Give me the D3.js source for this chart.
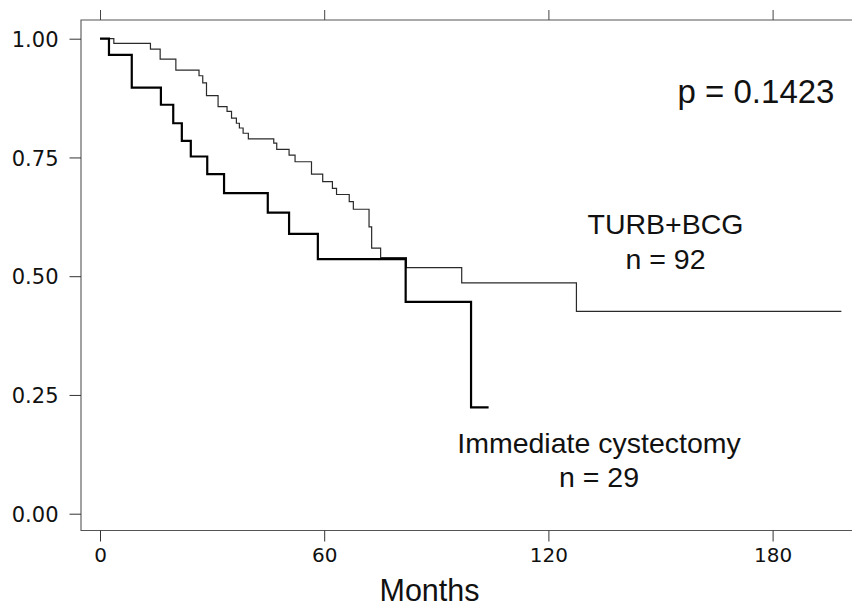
<!DOCTYPE html>
<html>
<head>
<meta charset="utf-8">
<script src="https://cdn.jsdelivr.net/npm/d3@7"></script>
<style>
  body { margin: 0; background: #fff; }
  svg { display: block; }
  .tick-label { font-family: "DejaVu Sans", sans-serif; fill: #111; }
  .note { font-family: "Liberation Sans", Arial, sans-serif; fill: #111; }
</style>
</head>
<body>
<svg id="chart" width="852" height="606"></svg>
<script>
// Kaplan-Meier steps: time (months) and survival after the step
const bcgTimes = [0, 3.7, 13.5, 16.1, 20.3, 26.5, 27.5, 28.5, 31.6, 34.0, 35.2, 36.5, 37.3, 38.3, 39.7,
                  46.5, 47.3, 50.6, 52.2, 56.6, 59.6, 62.2, 63.3, 66.7, 67.8, 72.0, 72.7, 75.1, 82.0,
                  96.8, 127.5, 198.4];
const bcgSurv  = [1.0, 0.990, 0.978, 0.957, 0.934, 0.922, 0.907, 0.880, 0.857, 0.847, 0.833, 0.822, 0.812, 0.801, 0.789,
                  0.780, 0.767, 0.755, 0.741, 0.715, 0.699, 0.685, 0.672, 0.657, 0.641, 0.604, 0.559, 0.539, 0.518,
                  0.486, 0.426, 0.426];

const cystTimes = [0, 2.4, 8.5, 16.3, 19.6, 21.9, 24.3, 28.7, 33.2, 44.9, 50.6, 58.3, 81.8, 99.3, 104];
const cystSurv  = [1.0, 0.966, 0.897, 0.861, 0.822, 0.785, 0.752, 0.715, 0.675, 0.634, 0.589, 0.536, 0.446, 0.224, 0.224];

const xTicks = [0, 60, 120, 180];
const yTicks = [0, 0.25, 0.5, 0.75, 1];

const pValue = "p = 0.1423";
const bcgLabel = ["TURB+BCG", "n = 92"];
const cystLabel = ["Immediate cystectomy", "n = 29"];
const xTitle = "Months";

const svg = d3.select('#chart');

const frame = { left: 81, top: 20, right: 860, bottom: 530.5 };

const xScale = d3.scaleLinear().domain([0, 180]).range([100, 772.6]);
const yScale = d3.scaleLinear().domain([0, 1]).range([513.7, 38.7]);

// frame (right side runs off the picture)
svg.append('path')
  .attr('d', `M${frame.right},${frame.top}H${frame.left}V${frame.bottom}H${frame.right}`)
  .attr('fill', 'none')
  .attr('stroke', '#555')
  .attr('stroke-width', 1.1);

// y axis
const yAxis = d3.axisLeft(yScale)
  .tickValues(yTicks)
  .tickFormat(d3.format('.2f'))
  .tickSize(11.5)
  .tickPadding(11);

const yAxisG = svg.append('g')
  .attr('transform', `translate(${frame.left},0)`)
  .call(yAxis);
yAxisG.select('.domain').remove();
yAxisG.selectAll('line').attr('stroke', '#333');
yAxisG.selectAll('text')
  .attr('class', 'tick-label')
  .attr('font-size', 21)
  .attr('dy', '0.36em');

// bottom x axis
const xAxis = d3.axisBottom(xScale)
  .tickValues(xTicks)
  .tickFormat(d3.format('d'))
  .tickSize(11)
  .tickPadding(5);

const xAxisG = svg.append('g')
  .attr('transform', `translate(0,${frame.bottom})`)
  .call(xAxis);
xAxisG.select('.domain').remove();
xAxisG.selectAll('line').attr('stroke', '#333');
xAxisG.selectAll('text')
  .attr('class', 'tick-label')
  .attr('font-size', 20)
  .attr('dy', '0.76em');

// top ticks, no labels
const xAxisTop = d3.axisTop(xScale)
  .tickValues(xTicks)
  .tickFormat('')
  .tickSize(10);

const xTopG = svg.append('g')
  .attr('transform', `translate(0,${frame.top})`)
  .call(xAxisTop);
xTopG.select('.domain').remove();
xTopG.selectAll('line').attr('stroke', '#444');

// survival curves
const stepLine = d3.line()
  .x(d => xScale(d[0]))
  .y(d => yScale(d[1]))
  .curve(d3.curveStepAfter);

const curves = [
  { key: 'bcg', pts: d3.zip(bcgTimes, bcgSurv), width: 1.2, color: '#2a2a2a' },
  { key: 'cyst', pts: d3.zip(cystTimes, cystSurv), width: 2.2, color: '#000' }
];

svg.selectAll('.line-path')
  .data(curves)
  .enter().append('path')
  .attr('class', 'line-path')
  .attr('d', d => stepLine(d.pts))
  .attr('fill', 'none')
  .attr('stroke', d => d.color)
  .attr('stroke-width', d => d.width);

// notes
svg.append('text')
  .attr('class', 'note')
  .attr('x', 756)
  .attr('y', 103.3)
  .attr('text-anchor', 'middle')
  .attr('font-size', 33)
  .text(pValue);

svg.append('text')
  .attr('class', 'note')
  .attr('text-anchor', 'middle')
  .attr('font-size', 28.5)
  .selectAll('tspan')
  .data(bcgLabel)
  .enter().append('tspan')
  .attr('x', 665.5)
  .attr('y', (d, i) => 234.3 + i * 35)
  .text(d => d);

svg.append('text')
  .attr('class', 'note')
  .attr('text-anchor', 'middle')
  .attr('font-size', 28.5)
  .selectAll('tspan')
  .data(cystLabel)
  .enter().append('tspan')
  .attr('x', 599)
  .attr('y', (d, i) => 453 + i * 33.7)
  .text(d => d);

svg.append('text')
  .attr('class', 'note')
  .attr('x', 429.5)
  .attr('y', 600.5)
  .attr('text-anchor', 'middle')
  .attr('font-size', 30.5)
  .text(xTitle);
</script>
</body>
</html>
